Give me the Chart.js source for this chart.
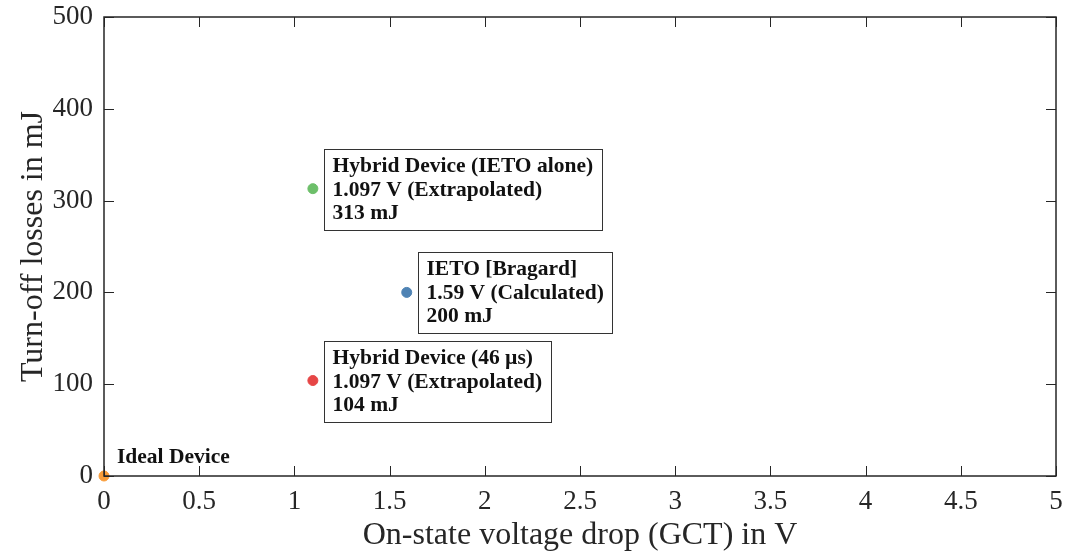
<!DOCTYPE html>
<html>
<head>
<meta charset="utf-8">
<script src="https://cdn.jsdelivr.net/npm/chart.js@4.4.0/dist/chart.umd.min.js"></script>
<style>
  html, body { margin: 0; padding: 0; background: #fff; }
  #wrap { width: 1071px; height: 557px; }
</style>
</head>
<body>
<div id="wrap"><canvas id="myChart" width="1071" height="557"></canvas></div>
<script>
// data
var devices = ['Ideal Device', 'Hybrid Device (46 µs)', 'IETO [Bragard]', 'Hybrid Device (IETO alone)'];
var voltages = [0, 1.097, 1.59, 1.097];
var losses = [0, 104, 200, 313];
var notes = [
  [],
  ['1.097 V (Extrapolated)', '104 mJ'],
  ['1.59 V (Calculated)', '200 mJ'],
  ['1.097 V (Extrapolated)', '313 mJ']
];
var colors = ['#f99c38', '#e64646', '#4f83b4', '#6dbf6a'];
var xTicks = [0, 0.5, 1, 1.5, 2, 2.5, 3, 3.5, 4, 4.5, 5];
var yTicks = [0, 100, 200, 300, 400, 500];

var serif = '"Liberation Serif", "Times New Roman", serif';

// frame with inward ticks, like the original figure
var framePlugin = {
  id: 'frame',
  afterDraw: function(chart) {
    var ctx = chart.ctx, a = chart.chartArea;
    var xs = chart.scales.x, ys = chart.scales.y;
    ctx.save();
    ctx.strokeStyle = '#262626';
    ctx.lineWidth = 1.5;
    ctx.strokeRect(a.left, a.top, a.right - a.left, a.bottom - a.top);
    ctx.lineWidth = 1;
    ctx.beginPath();
    xTicks.forEach(function(v) {
      var px = Math.round(xs.getPixelForValue(v)) + 0.5;
      ctx.moveTo(px, a.bottom); ctx.lineTo(px, a.bottom - 10);
      ctx.moveTo(px, a.top); ctx.lineTo(px, a.top + 10);
    });
    yTicks.forEach(function(v) {
      var py = Math.round(ys.getPixelForValue(v)) + 0.5;
      ctx.moveTo(a.left, py); ctx.lineTo(a.left + 10, py);
      ctx.moveTo(a.right, py); ctx.lineTo(a.right - 10, py);
    });
    ctx.stroke();
    ctx.restore();
  }
};

// text boxes next to the points
var notePlugin = {
  id: 'notes',
  afterDatasetsDraw: function(chart) {
    var ctx = chart.ctx;
    var xs = chart.scales.x, ys = chart.scales.y;
    ctx.save();
    ctx.font = 'bold 21.5px ' + serif;
    ctx.textBaseline = 'middle';
    ctx.fillStyle = '#111';
    devices.forEach(function(name, i) {
      var px = xs.getPixelForValue(voltages[i]);
      var py = ys.getPixelForValue(losses[i]);
      var lines = [name].concat(notes[i]);
      if (notes[i].length === 0) {
        ctx.fillText(name, px + 13, py - 19);
        return;
      }
      var w = 0;
      lines.forEach(function(l) { w = Math.max(w, ctx.measureText(l).width); });
      var bx = Math.round(px + 11) + 0.5, by = Math.round(py - 40) + 0.5;
      var bw = Math.round(w + 17), bh = 81;
      ctx.fillStyle = '#fff';
      ctx.fillRect(bx, by, bw, bh);
      ctx.strokeStyle = '#333';
      ctx.lineWidth = 1;
      ctx.strokeRect(bx, by, bw, bh);
      ctx.fillStyle = '#111';
      lines.forEach(function(l, k) {
        ctx.fillText(l, bx + 8, by + 17 + k * 23.5);
      });
    });
    ctx.restore();
  }
};

var points = voltages.map(function(v, i) { return { x: v, y: losses[i] }; });

var ctx = document.getElementById('myChart').getContext('2d');
var chart = new Chart(ctx, {
  type: 'scatter',
  data: {
    datasets: [{
      label: 'Devices',
      data: points,
      backgroundColor: colors,
      borderColor: colors,
      pointRadius: 5,
      pointHoverRadius: 5,
      clip: false
    }]
  },
  options: {
    responsive: false,
    animation: false,
    layout: { padding: { top: 17, right: 15, left: 0, bottom: 0 } },
    plugins: {
      legend: { display: false },
      tooltip: { enabled: false }
    },
    scales: {
      x: {
        type: 'linear',
        min: 0,
        max: 5,
        afterBuildTicks: function(s) { s.ticks = xTicks.map(function(v) { return { value: v }; }); },
        afterFit: function(s) { s.height = 81; s.paddingLeft = 0; s.paddingRight = 0; },
        grid: { display: false },
        border: { display: false },
        ticks: {
          padding: 2,
          color: '#262626',
          font: { family: serif, size: 27 },
          maxRotation: 0,
          callback: function(v) { return String(v); }
        },
        title: {
          display: true,
          text: 'On-state voltage drop (GCT) in V',
          color: '#262626',
          font: { family: serif, size: 32 },
          padding: { top: 0, bottom: 2 }
        }
      },
      y: {
        type: 'linear',
        min: 0,
        max: 500,
        afterBuildTicks: function(s) { s.ticks = yTicks.map(function(v) { return { value: v }; }); },
        afterFit: function(s) { s.width = 104; s.paddingTop = 0; s.paddingBottom = 0; },
        grid: { display: false },
        border: { display: false },
        ticks: {
          padding: 3,
          color: '#262626',
          font: { family: serif, size: 27 },
          callback: function(v) { return String(v); }
        },
        title: {
          display: true,
          text: 'Turn-off losses in mJ',
          color: '#262626',
          font: { family: serif, size: 32 },
          padding: { top: 14, bottom: 0 }
        }
      }
    }
  },
  plugins: [framePlugin, notePlugin]
});
</script>
</body>
</html>
